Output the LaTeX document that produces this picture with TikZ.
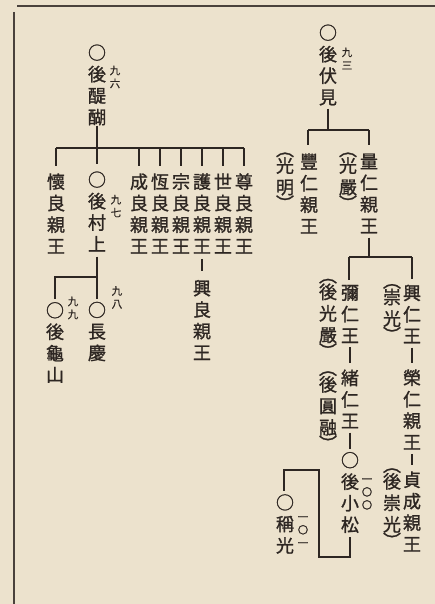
\documentclass[tikz,border=0pt]{standalone}
\usepackage{fontspec}
\newfontfamily\jp[FakeBold=1.3]{Noto Sans CJK JP}
\newfontfamily\jpn[FakeBold=0.8]{Noto Sans CJK JP}
\definecolor{paper}{RGB}{236,226,205}
\definecolor{ink}{RGB}{45,38,34}
\tikzset{
  col/.style={font=\jp\fontsize{18}{21.5}\selectfont, align=center, inner sep=0pt, text=ink},
  num/.style={font=\jpn\fontsize{10.5}{13}\selectfont, align=center, inner sep=0pt, text=ink},
  link/.style={draw=ink, line width=1.3pt},
  rule/.style={draw=ink!85!paper, line width=1.4pt},
}
\begin{document}
\begin{tikzpicture}[x=1pt,y=-1pt]
\fill[paper] (0,0) rectangle (435,604);
\useasboundingbox (0,0) rectangle (435,604);
% page rules
\draw[rule] (17,6) -- (435,6);
\draw[rule] (14,12) -- (14,604);

% ---------- left tree ----------
\node[col] (godaigo) at (97,85) {○\\後\\醍\\醐};
\node[num] (n96) at (115,77) {九\\六};
\node[col] (kaneyoshi) at (56,213.5) {懷\\良\\親\\王};
\node[col] (gomurakami) at (97,211.5) {○\\後\\村\\上};
\node[num] (n97) at (116,206) {九\\七};
\node[col] (nariyoshi) at (139,213.5) {成\\良\\親\\王};
\node[col] (tsuneyoshi) at (160,213.5) {恆\\良\\親\\王};
\node[col] (muneyoshi) at (181,213.5) {宗\\良\\親\\王};
\node[col] (moriyoshi) at (202,213.5) {護\\良\\親\\王};
\node[col] (yoyoshi) at (223,213.5) {世\\良\\親\\王};
\node[col] (takayoshi) at (244,213.5) {尊\\良\\親\\王};
\node[col] (okiyoshi) at (202,320) {興\\良\\親\\王};
\node[col] (gokameyama) at (55,342.5) {○\\後\\龜\\山};
\node[num] (n99) at (73,308) {九\\九};
\node[col] (chokei) at (97,331.5) {○\\長\\慶};
\node[num] (n98) at (117,297.5) {九\\八};

\coordinate (barL) at (56,148);
\coordinate (barR) at (244,148);
\draw[link] (godaigo.south) -- (godaigo.south |- barL);
\draw[link] (barL) -- (barR);
\foreach \n in {kaneyoshi,gomurakami,nariyoshi,tsuneyoshi,muneyoshi,moriyoshi,yoyoshi,takayoshi}
  \draw[link, shorten >=7pt] (\n.north |- barL) -- (\n.north);
\draw[link, shorten <=5pt, shorten >=3pt] (gomurakami.south) -- (chokei.north);
\coordinate (kbar) at (55,277);
\draw[link, shorten >=3pt] (kbar -| gomurakami) -- (kbar) -- (gokameyama.north);
\draw[link, shorten <=5pt, shorten >=9pt] (moriyoshi.south) -- (okiyoshi.north);

% ---------- right tree ----------
\node[col] (gofushimi) at (328,65) {○\\後\\伏\\見};
\node[num] (n93) at (347,58.5) {九\\三};
\node[col] (toyohito) at (309,193.5) {豐\\仁\\親\\王};
\node[col] (komyo) at (285,181.5) {︵\\[-5pt]光\\明\\[-5pt]︶};
\node[col] (kazuhito) at (369,193.5) {量\\仁\\親\\王};
\node[col] (kogon) at (348,181.5) {︵\\[-5pt]光\\嚴\\[-5pt]︶};
\node[col] (iyahito) at (350,314) {彌\\仁\\王};
\node[col] (gokogon) at (328,318.5) {︵\\[-5pt]後\\光\\嚴\\[-5pt]︶};
\node[col] (ohito) at (350,399) {緒\\仁\\王};
\node[col] (goenyu) at (328,411) {︵\\[-5pt]後\\圓\\融\\[-5pt]︶};
\node[col] (gokomatsu) at (350,492.5) {○\\後\\小\\松};
\node[num] (n100) at (367,494) {一\\〇\\〇};
\node[col] (okihito) at (412,314) {興\\仁\\王};
\node[col] (suko) at (392,313) {︵\\[-5pt]崇\\光\\[-5pt]︶};
\node[col] (yoshihito) at (412,409.5) {榮\\仁\\親\\王};
\node[col] (sadafusa) at (412,511.5) {貞\\成\\親\\王};
\node[col] (gosuko) at (392,508) {︵\\[-5pt]後\\崇\\光\\[-5pt]︶};
\node[col] (shoko) at (285,524) {○\\稱\\光};
\node[num] (n101) at (303,531.5) {一\\〇\\一};

\coordinate (fbar) at (308,130);
\coordinate (fbarR) at (369,130);
\draw[link, shorten <=3pt] (gofushimi.south) -- (gofushimi.south |- fbar);
\draw[link] (fbar) -- (fbarR);
\draw[link, shorten >=8pt] (fbar) -- (fbar |- toyohito.north);
\draw[link, shorten >=8pt] (fbarR) -- (kazuhito.north);
\coordinate (kbarL) at (349,257);
\coordinate (kbarR) at (412,257);
\draw[link, shorten <=4pt] (kazuhito.south) -- (kazuhito.south |- kbarL);
\draw[link] (kbarL) -- (kbarR);
\draw[link, shorten >=5pt] (kbarL) -- (kbarL |- iyahito.north);
\draw[link, shorten >=5pt] (kbarR) -- (okihito.north);
\draw[link, shorten <=4pt, shorten >=6pt] (iyahito.south) -- (ohito.north);
\draw[link, shorten <=4pt, shorten >=3pt] (ohito.south) -- (gokomatsu.north);
\draw[link, shorten <=4pt, shorten >=6pt] (okihito.south) -- (yoshihito.north);
\draw[link, shorten <=4pt, shorten >=6pt] (yoshihito.south) -- (sadafusa.north);
\coordinate (sb1) at (350,557);
\coordinate (sb2) at (319,557);
\coordinate (sb3) at (319,470);
\coordinate (sb4) at (284,470);
\draw[link, shorten <=4pt, shorten >=3pt] (gokomatsu.south) -- (sb1) -- (sb2) -- (sb3) -- (sb4) -- (sb4 |- shoko.north);
\end{tikzpicture}
\end{document}
